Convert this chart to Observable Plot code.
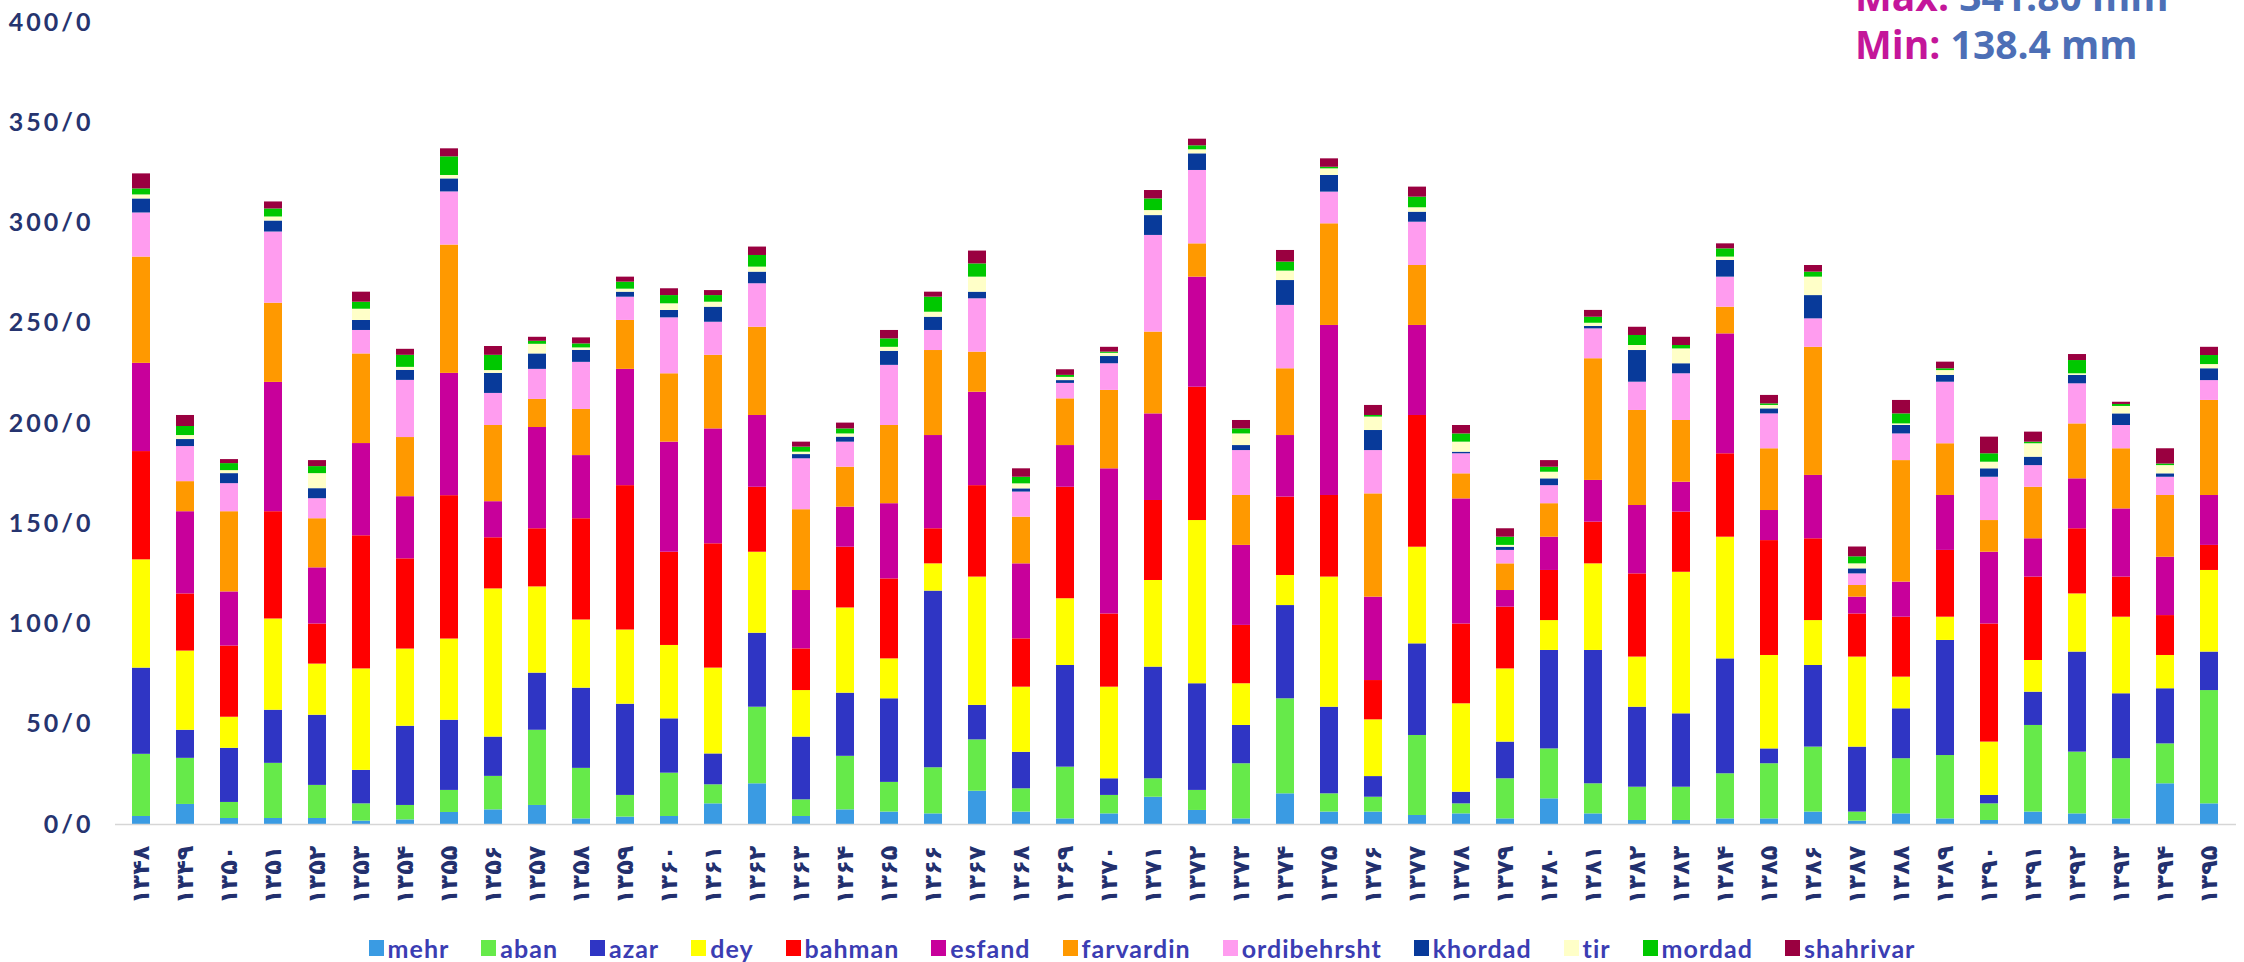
<!DOCTYPE html>
<html>
<head>
<meta charset="utf-8">
<script src="https://cdn.jsdelivr.net/npm/d3@7"></script>
<script src="https://cdn.jsdelivr.net/npm/@observablehq/plot@0.6"></script>
<style>
  html, body { margin: 0; padding: 0; background: #ffffff; }
  body { width: 2244px; height: 962px; overflow: hidden; position: relative; }
  #chart svg { display: block; }
  #chart g[aria-label="x-axis tick label"] text { letter-spacing: 4px; }
  #chart g[aria-label="y-axis tick label"] text { letter-spacing: 3px; }
  .note { position: absolute; left: 1855px; font-family: "Open Sans", sans-serif; font-weight: 700; font-size: 39px; line-height: 39px; white-space: nowrap; }
  .note .k { color: #c4169a; }
  .note .v { color: #4d6fb6; }
  #legend { display: flex; justify-content: center; align-items: center; height: 47px; padding-top: 18px; padding-left: 40px; box-sizing: border-box; font-family: Lato, "DejaVu Sans", sans-serif; font-weight: 700; font-size: 25px; letter-spacing: 1px; color: #3b3db3; }
  #legend .item { display: flex; align-items: center; margin: 0 16px; }
  #legend .sw { width: 15px; height: 16px; margin-right: 4px; }
</style>
</head>
<body>
<div id="chart"></div>
<div id="legend"></div>
<div class="note" style="top:-24px"><span class="k">Max:</span> <span class="v">341.80 mm</span></div>
<div class="note" style="top:24px"><span class="k">Min:</span> <span class="v">138.4 mm</span></div>
<script>
const years = ["۱۳۴۸","۱۳۴۹","۱۳۵۰","۱۳۵۱","۱۳۵۲","۱۳۵۳","۱۳۵۴","۱۳۵۵","۱۳۵۶","۱۳۵۷","۱۳۵۸","۱۳۵۹",
  "۱۳۶۰","۱۳۶۱","۱۳۶۲","۱۳۶۳","۱۳۶۴","۱۳۶۵","۱۳۶۶","۱۳۶۷","۱۳۶۸","۱۳۶۹","۱۳۷۰","۱۳۷۱",
  "۱۳۷۲","۱۳۷۳","۱۳۷۴","۱۳۷۵","۱۳۷۶","۱۳۷۷","۱۳۷۸","۱۳۷۹","۱۳۸۰","۱۳۸۱","۱۳۸۲","۱۳۸۳",
  "۱۳۸۴","۱۳۸۵","۱۳۸۶","۱۳۸۷","۱۳۸۸","۱۳۸۹","۱۳۹۰","۱۳۹۱","۱۳۹۲","۱۳۹۳","۱۳۹۴","۱۳۹۵"];

const months = ["mehr","aban","azar","dey","bahman","esfand","farvardin","ordibehrsht","khordad","tir","mordad","shahrivar"];
const monthColors = ["#3a9be3","#66ea4a","#2f35c4","#ffff00","#ff0000","#c8009b","#ff9900","#ff9cef","#083a9a","#ffffc8","#00c800","#9a0040"];

const mehr = [4,10,3,3,3,1.7,2.3,6,7.3,9.5,2.8,3.7,4,10.3,20.3,4,7.3,6.2,5.3,16.6,6.2,2.8,5.3,13.6,7,2.8,15.3,6.2,6.2,4.5,5.3,2.8,12.8,5.3,2,2,2.8,2.8,6.2,1.7,5.3,2.8,2,6.2,5.3,2.8,20.3,10.3];
const aban = [31,23,8,27.5,16.5,8.6,7.2,11,16.7,37.5,25.2,10.8,21.6,9.5,38.2,8.3,26.7,14.8,23,25.6,11.6,25.8,9.2,9.2,10,27.5,47.4,9.1,7.4,39.9,5,20,24.9,15,16.6,16.6,22.5,27.5,32.4,4.5,27.5,31.6,8.3,43.2,30.8,30,19.9,56.5];
const azar = [43,14,27,26.5,35,16.7,39.5,35,19.6,28.5,40,45.5,27.1,15.4,36.9,31.3,31.5,41.7,88.1,17.2,18.2,50.7,8.3,55.7,53.2,19.1,46.5,43.2,10.3,45.7,5.8,18.3,49.1,66.5,39.9,36.6,57.3,7.4,40.7,32.4,24.9,57.4,4.2,16.6,49.9,32.4,27.5,19.2];
const dey = [54,39.5,15.5,45.5,25.5,50.6,38.5,40.5,73.9,43,34,37,36.6,42.8,40.4,23.2,42.5,19.9,13.6,64,32.5,33.3,45.7,43.2,81.4,20.8,15,64.9,28.3,48.2,44.1,36.5,14.9,43.2,25,70.6,60.7,46.6,22.4,44.9,15.8,11.6,26.6,15.8,29,38.2,16.6,40.7];
const bahman = [54,28.5,35.5,53.5,20,66.4,45,71.5,25.5,29,50.5,72,46.5,62,32.4,20.8,30.3,39.9,17.5,45.6,24.1,55.6,36.5,39.9,66.5,29.1,39.1,40.7,19.6,65.7,39.8,30.8,25,20.8,41.5,30,41.6,57.3,40.8,21.5,29.9,33.3,58.9,41.6,32.5,20,19.9,12.5];
const esfand = [44,41,27,64.5,28,46,31,61,18,50.5,31.5,58,54.9,57.3,35.8,29.1,20,37.5,46.5,46.6,37.4,20.8,72.4,43.2,54.9,39.9,30.7,84.8,41.6,44.9,62.4,8.3,16.6,20.8,34.1,14.9,59.8,15,31.6,8.4,17.5,27.4,35.8,19.1,24.9,34,29.1,24.9];
const farvardin = [53,15,40,39.5,24.5,44.7,29.5,64,38,14,23,24.4,34.1,36.7,44,40.3,19.9,39,42.4,20,23.3,23.3,39.1,40.8,16.6,24.9,33.3,50.7,51.5,29.9,12.5,13.3,16.7,60.7,47.4,30.8,13.3,30.8,63.9,5.8,60.6,25.8,15.8,25.7,27.4,30,30.8,47.4];
const ordibehrsht = [22,17.5,14,35.5,10,11.7,28.5,26.5,16,15,23.5,11.6,27.9,16.5,21.7,25.4,12.5,30,10,26.6,12.5,7.7,13.3,48.2,36.6,22.4,31.6,15.8,21.6,21.6,10,6.7,9,14.9,14.1,23.3,15,17.4,14.2,5.8,13.3,30.7,21.6,10.8,20,11.6,9.1,9.9];
const khordad = [7,3.5,5,5.5,5,5,5,6.5,10,7.7,6,2.5,3.7,7.5,5.8,2.1,2.5,7,6.6,3.3,1.6,1.4,3.6,9.9,8.3,2.5,12.4,8.3,10,5,0.8,1.6,3.4,1.2,15.8,5,8.3,2.5,11.6,2.5,4.2,3.4,4.2,4.2,4.2,5.8,1.7,5.9];
const tir = [2,2,1.5,2,7.5,5.6,1.5,1.7,1.4,4.8,1.2,1.5,3.3,2.5,2.5,1.2,1.6,2,2.5,7.5,2.5,1.6,1.6,2.5,2,5.8,4.7,3.3,6.7,2.2,5,0.9,3.3,1.6,2.5,7.4,1.7,1.7,9.2,2.5,0.8,2.4,3.3,6.7,0.8,3.7,4.1,2.1];
const mordad = [3,4.5,3.5,4,3.5,3.5,6,9.3,7.6,1.5,2,3.5,4.1,3.3,5.8,2.5,2.5,4.2,7.5,6.6,3.3,1,0.6,5.8,2,2.5,4.5,0.8,0.8,5.3,4.1,4.1,2.5,3,5,1.7,4.1,0.8,2.5,3.5,5,0.9,4.2,0.8,6.6,1,0.8,4.5];
const shahrivar = [7.5,5.5,2,3.5,3,5,3,4,4.4,2,3,2.5,3.4,2.5,4.2,2.5,2.9,4.2,2.5,6.4,4.2,2.8,2.4,4.2,3.3,4.2,5.8,4.2,5,5,4.2,4.2,3.3,3.4,4.1,4.1,2.5,4.2,3.3,4.9,6.7,3.3,8.3,5,3,1.1,7.6,4.1];

const yTicks = [0,50,100,150,200,250,300,350,400];

const series = [mehr,aban,azar,dey,bahman,esfand,farvardin,ordibehrsht,khordad,tir,mordad,shahrivar];
const data = years.flatMap((yr, i) => months.map((m, k) => ({year: yr, month: m, value: series[k][i]})));

const chart = Plot.plot({
  width: 2244,
  height: 915,
  marginLeft: 115,
  marginRight: 8,
  marginTop: 22,
  marginBottom: 91,
  x: {domain: years, paddingInner: 0.59, paddingOuter: 0.295, label: null},
  y: {domain: [0, 400], label: null},
  color: {domain: months, range: monthColors},
  marks: [
    Plot.barY(data, {x: "year", y: "value", fill: "month", order: null}),
    Plot.ruleY([0], {stroke: "#d6d6d6", strokeWidth: 1.5}),
    Plot.axisY({ticks: yTicks, tickFormat: d => `${d}/0`, tickSize: 0, tickPadding: 22, label: null,
      fontSize: 25, fontWeight: "bold", fill: "#26346f", fontFamily: "Lato, sans-serif"}),
    Plot.axisX({tickRotate: -90, tickSize: 0, tickPadding: 21, label: null,
      fontSize: 24, fontWeight: "bold", fill: "#22306e", fontFamily: "DejaVu Sans, sans-serif"})
  ]
});
document.getElementById("chart").appendChild(chart);

const legend = document.getElementById("legend");
months.forEach((m, k) => {
  const it = document.createElement("div");
  it.className = "item";
  const sw = document.createElement("span");
  sw.className = "sw";
  sw.style.background = monthColors[k];
  const lb = document.createElement("span");
  lb.textContent = m;
  it.appendChild(sw);
  it.appendChild(lb);
  legend.appendChild(it);
});
</script>
</body>
</html>
